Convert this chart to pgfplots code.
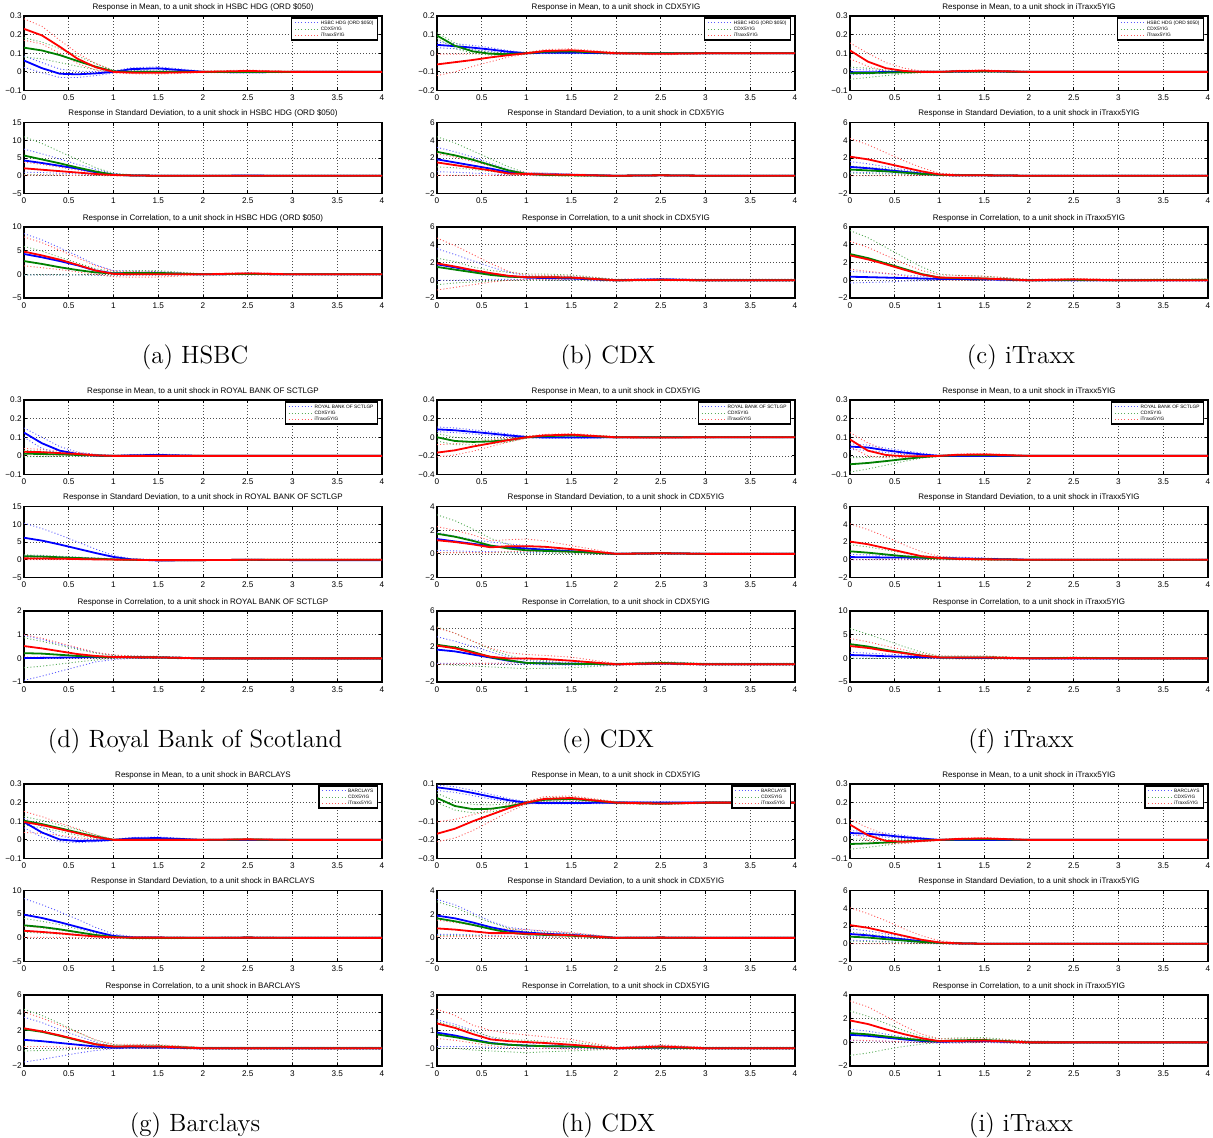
\documentclass[border=0pt]{standalone}
\usepackage{fontspec}
\usepackage{pgfplots}
\usepackage{pgfplotstable}
\pgfplotsset{compat=1.18}
\newfontfamily\arial{Liberation Sans}
\definecolor{mgreen}{rgb}{0,0.5,0}

\pgfplotsset{
 bandB/.style={blue!65, line width=0.45pt, dash pattern=on 0.5pt off 1.1pt},
 bandG/.style={mgreen!65, line width=0.45pt, dash pattern=on 0.5pt off 1.1pt},
 bandR/.style={red!65, line width=0.45pt, dash pattern=on 0.5pt off 1.1pt},
 lineB/.style={blue, line width=0.9pt, line join=round},
 lineG/.style={mgreen, line width=0.9pt, line join=round},
 lineR/.style={red, line width=0.9pt, line join=round},
 irf/.style={
   scale only axis, width=179pt, anchor=north west,
   xmin=0, xmax=4,
   xtick={0,0.5,1,1.5,2,2.5,3,3.5,4},
   xticklabels={0,0.5,1,1.5,2,2.5,3,3.5,4},
   grid=major,
   major grid style={black!70, line width=0.35pt, dash pattern=on 0.4pt off 1.1pt},
   axis line style={line width=0.75pt},
   tick align=inside, major tick length=1.6pt,
   tick style={line width=0.4pt, black},
   tick label style={font=\arial\fontsize{4.1}{4.5}\selectfont, inner sep=0pt},
   xticklabel style={yshift=-2pt},
   yticklabel style={xshift=-1pt},
   every axis title/.style={at={(0.5,1)}, anchor=base, yshift=3.3pt, inner sep=0pt,
      font=\arial\fontsize{4}{4.5}\selectfont},
   legend cell align=left,
   legend image code/.code={\draw[##1] (0pt,0pt) -- (11.5pt,0pt);},
   legend style={at={(1,1)}, anchor=north east, xshift=-2pt, yshift=-0.6pt,
      draw=black, line width=0.75pt, fill=white,
      font=\arial\fontsize{2.4}{2.6}\selectfont,
      inner xsep=1.5pt, inner ysep=0.85pt, row sep=0pt,
      nodes={text height=1.8pt, text depth=0.5pt, inner sep=0.4pt},
      /tikz/every odd column/.append style={column sep=0.8pt}},
 },
 yM1/.style={ymin=-0.1,ymax=0.3,ytick={-0.1,0,0.1,0.2,0.3},yticklabels={−0.1,0,0.1,0.2,0.3}},
 yM2/.style={ymin=-0.2,ymax=0.2,ytick={-0.2,-0.1,0,0.1,0.2},yticklabels={−0.2,−0.1,0,0.1,0.2}},
 yM3/.style={ymin=-0.4,ymax=0.4,ytick={-0.4,-0.2,0,0.2,0.4},yticklabels={−0.4,−0.2,0,0.2,0.4}},
 yM4/.style={ymin=-0.3,ymax=0.1,ytick={-0.3,-0.2,-0.1,0,0.1},yticklabels={−0.3,−0.2,−0.1,0,0.1}},
 yA/.style={ymin=-5,ymax=15,ytick={-5,0,5,10,15},yticklabels={−5,0,5,10,15}},
 yB/.style={ymin=-5,ymax=10,ytick={-5,0,5,10},yticklabels={−5,0,5,10}},
 yC/.style={ymin=-2,ymax=6,ytick={-2,0,2,4,6},yticklabels={−2,0,2,4,6}},
 yD/.style={ymin=-2,ymax=4,ytick={-2,0,2,4},yticklabels={−2,0,2,4}},
 yE/.style={ymin=-1,ymax=2,ytick={-1,0,1,2},yticklabels={−1,0,1,2}},
 yF/.style={ymin=-1,ymax=3,ytick={-1,0,1,2,3},yticklabels={−1,0,1,2,3}},
}

\newcommand\irfplots[1]{%
\addplot[bandB] table[x=x,y=bu]{#1};
\addplot[bandG] table[x=x,y=gu]{#1};
\addplot[bandR] table[x=x,y=ru]{#1};
\addplot[bandB,forget plot] table[x=x,y=bl]{#1};
\addplot[bandG,forget plot] table[x=x,y=gl]{#1};
\addplot[bandR,forget plot] table[x=x,y=rl]{#1};
\addplot[lineB,forget plot] table[x=x,y=b]{#1};
\addplot[lineG,forget plot] table[x=x,y=g]{#1};
\addplot[lineR,forget plot] table[x=x,y=r]{#1};
}
\newcommand\irf[7]{%
\begin{axis}[irf,at={(#1pt,-#2pt)},height=#3pt,#4,title={#5},#7]
\irfplots{#6}
\end{axis}}

% ---------------- data: x b bl bu g gl gu r rl ru ----------------
\pgfplotstableread{
x b bl bu g gl gu r rl ru
0 .061 .025 .085 .13 .08 .183 .231 .17 .285
.2 .02 -.005 .05 .115 .07 .16 .196 .15 .245
.4 -.01 -.03 .015 .09 .05 .125 .135 .10 .17
.6 -.013 -.03 .003 .058 .03 .085 .07 .045 .10
.8 -.008 -.02 .002 .028 .012 .045 .025 .01 .045
1 0 -.006 .006 .003 -.002 .008 0 -.006 .006
1.2 .015 .007 .022 0 -.004 .004 -.004 -.01 .002
1.5 .019 .01 .027 0 -.004 .004 -.005 -.012 .002
2 0 -.004 .004 0 -.002 .002 0 -.004 .004
2.5 -.002 -.006 .002 0 -.002 .002 .005 0 .01
3 0 -.003 .003 0 -.002 .002 0 -.003 .003
4 0 -.002 .002 0 -.001 .001 0 -.002 .002
}\TAm
\pgfplotstableread{
x b bl bu g gl gu r rl ru
0 4.3 1.0 7.5 5.7 0.3 11 2.1 0.2 3.8
.2 3.6 0.9 6.2 4.6 0.3 9.1 1.7 0.2 3.2
.4 2.8 0.7 4.7 3.5 0.2 6.8 1.3 0.2 2.4
.6 2.0 0.5 3.2 2.3 0.1 4.5 0.9 0.1 1.6
.8 1.0 0.3 1.8 1.2 0.1 2.3 0.5 0.1 0.9
1 0.3 0.1 0.6 0.3 0 0.7 0.2 0 0.4
1.2 0.1 0 0.3 0.1 0 0.3 0.1 0 0.2
1.5 0 -0.1 0.15 0 -0.1 0.1 0 -0.1 0.1
2 0 -0.1 0.1 0 -0.1 0.1 0 -0.1 0.1
2.5 0.05 -0.1 0.15 0 -0.1 0.1 0 -0.1 0.1
3 0 -0.1 0.1 0 -0.1 0.1 0 -0.1 0.1
4 0 -0.1 0.1 0 -0.1 0.1 0 -0.1 0.1
}\TAs
\pgfplotstableread{
x b bl bu g gl gu r rl ru
0 4.3 -0.1 8.6 2.8 -0.1 5.9 4.8 1.8 7.9
.2 3.6 -0.1 7.3 2.2 -0.1 4.9 4.0 1.4 6.7
.4 2.8 -0.1 5.6 1.5 -0.1 3.6 3.1 1.0 5.1
.6 1.9 -0.1 3.9 0.9 -0.1 2.4 2.0 0.5 3.5
.8 0.8 -0.2 2.0 0.4 -0.1 1.2 0.8 0.0 1.8
1 0.2 -0.3 0.8 0.2 -0.2 0.6 0.1 -0.5 0.7
1.2 0.2 -0.2 0.7 0.3 -0.1 0.8 0.0 -0.6 0.6
1.5 0.2 -0.2 0.6 0.3 -0.1 0.8 0.0 -0.6 0.5
2 0 -0.1 0.1 0 -0.1 0.1 0 -0.1 0.1
2.5 0.1 -0.1 0.3 0.1 -0.1 0.2 0.2 0 0.4
3 0 -0.1 0.1 0 -0.1 0.1 0 -0.1 0.1
4 0 -0.1 0.1 0 -0.1 0.1 0 -0.1 0.1
}\TAc
\pgfplotstableread{
x b bl bu g gl gu r rl ru
0 .045 .03 .06 .095 .08 .11 -.06 -.12 -.005
.2 .038 .024 .052 .04 .025 .055 -.048 -.10 -.005
.4 .03 .018 .042 .01 .0 .02 -.036 -.07 -.004
.6 .02 .01 .03 -.003 -.01 .005 -.022 -.045 -.002
.8 .008 .002 .014 -.004 -.01 .002 -.01 -.02 0
1 0 -.004 .004 0 -.004 .004 0 -.004 .004
1.2 .003 -.002 .008 .008 .002 .014 .012 .004 .02
1.5 .003 -.002 .008 .01 .004 .016 .016 .008 .024
2 0 -.004 .004 0 -.004 .004 0 -.006 .006
2.5 0 -.004 .004 0 -.004 .004 -.003 -.008 .002
3 0 -.003 .003 0 -.003 .003 0 -.004 .004
4 0 -.002 .002 0 -.002 .002 0 -.002 .002
}\TBm
\pgfplotstableread{
x b bl bu g gl gu r rl ru
0 1.85 0.45 3.2 2.7 1.0 4.4 1.5 0.05 2.5
.2 1.5 0.4 2.7 2.3 0.9 3.7 1.2 0.05 2.1
.4 1.15 0.3 2.1 1.8 0.7 2.8 0.9 0.05 1.6
.6 0.8 0.2 1.4 1.2 0.5 1.9 0.6 0.05 1.1
.8 0.4 0.1 0.7 0.6 0.2 1.0 0.25 0.05 0.6
1 0.2 0.05 0.35 0.2 0.1 0.3 0.2 0.05 0.35
1.2 0.15 0 0.3 0.1 0 0.2 0.15 0 0.3
1.5 0.1 0 0.2 0.05 -0.05 0.15 0.1 0 0.2
2 0 -0.05 0.05 0 -0.05 0.05 0 -0.05 0.05
2.5 0.05 0 0.1 0.05 0 0.1 0.05 0 0.1
3 0 -0.05 0.05 0 -0.05 0.05 0 -0.05 0.05
4 0 -0.05 0.05 0 -0.05 0.05 0 -0.05 0.05
}\TBs
\pgfplotstableread{
x b bl bu g gl gu r rl ru
0 1.8 0.0 3.55 1.5 -0.5 2.5 1.9 -1.1 4.75
.2 1.45 0.0 2.9 1.2 -0.3 2.1 1.55 -0.8 3.9
.4 1.1 0.05 2.2 0.9 -0.2 1.5 1.15 -0.5 2.9
.6 0.75 0.1 1.5 0.6 -0.1 1.1 0.8 -0.2 1.9
.8 0.45 0.1 0.9 0.4 0.0 0.9 0.5 0.0 1.0
1 0.3 0.1 0.5 0.35 0.0 0.7 0.35 0.1 0.6
1.2 0.25 0.05 0.45 0.35 0.0 0.7 0.35 0.1 0.55
1.5 0.2 0.0 0.4 0.3 0.0 0.6 0.3 0.1 0.5
2 0 -0.1 0.1 0 -0.1 0.1 0 -0.1 0.1
2.5 0.1 0 0.2 0.05 -0.05 0.15 0.05 0 0.1
3 0 -0.1 0.1 0 -0.1 0.1 0 -0.1 0.1
4 0 -0.1 0.1 0 -0.1 0.1 0 -0.1 0.1
}\TBc
\pgfplotstableread{
x b bl bu g gl gu r rl ru
0 -.002 -.015 .015 -.007 -.04 .025 .115 .07 .155
.2 -.002 -.012 .01 -.006 -.03 .02 .055 .03 .10
.4 -.001 -.008 .006 -.004 -.02 .01 .02 .005 .05
.6 0 -.005 .004 -.002 -.01 .005 .005 -.005 .02
.8 0 -.003 .003 0 -.005 .004 0 -.003 .005
1 0 -.002 .002 0 -.003 .003 0 -.002 .002
1.2 .002 -.002 .006 .002 -.002 .006 .004 0 .008
1.5 .004 0 .008 .003 -.001 .007 .006 .001 .011
2 0 -.002 .002 0 -.002 .002 0 -.002 .002
2.5 0 -.002 .002 0 -.002 .002 0 -.002 .002
3 0 -.002 .002 0 -.002 .002 0 -.002 .002
4 0 -.002 .002 0 -.002 .002 0 -.002 .002
}\TCm
\pgfplotstableread{
x b bl bu g gl gu r rl ru
0 1.0 0.4 1.6 0.7 0.3 1.1 2.15 0.0 4.2
.2 0.85 0.35 1.35 0.6 0.25 0.95 1.85 0.0 3.5
.4 0.65 0.3 1.0 0.5 0.2 0.8 1.4 0.0 2.6
.6 0.45 0.2 0.7 0.35 0.15 0.55 0.95 0.0 1.7
.8 0.25 0.1 0.4 0.2 0.1 0.35 0.5 0.05 0.9
1 0.1 0.0 0.2 0.1 0.0 0.2 0.15 0.0 0.3
1.2 0.05 -0.05 0.15 0.05 -0.05 0.15 0.05 -0.05 0.15
1.5 0.05 -0.05 0.1 0.05 -0.05 0.1 0.05 -0.05 0.1
2 0 -0.05 0.05 0 -0.05 0.05 0 -0.05 0.05
2.5 0 -0.05 0.05 0 -0.05 0.05 0 -0.05 0.05
3 0 -0.05 0.05 0 -0.05 0.05 0 -0.05 0.05
4 0 -0.05 0.05 0 -0.05 0.05 0 -0.05 0.05
}\TCs
\pgfplotstableread{
x b bl bu g gl gu r rl ru
0 0.4 -0.3 1.0 2.95 0.4 5.6 2.8 1.25 4.4
.2 0.35 -0.25 0.9 2.5 0.35 4.8 2.35 1.0 3.7
.4 0.3 -0.2 0.75 1.9 0.3 3.7 1.8 0.8 2.8
.6 0.25 -0.1 0.6 1.3 0.2 2.6 1.2 0.5 1.9
.8 0.2 -0.05 0.45 0.7 0.1 1.5 0.65 0.2 1.1
1 0.15 0.0 0.3 0.3 0.0 0.7 0.3 0.0 0.6
1.2 0.15 0.0 0.3 0.25 0.0 0.55 0.28 0.0 0.55
1.5 0.1 0.0 0.2 0.2 0.0 0.45 0.2 0.0 0.45
2 0 -0.1 0.1 0 -0.1 0.1 0 -0.1 0.1
2.5 0 -0.1 0.1 0.05 -0.05 0.15 0.1 0 0.2
3 0 -0.1 0.1 0 -0.1 0.1 0 -0.1 0.1
4 0 -0.1 0.1 0.05 -0.05 0.15 0 -0.1 0.1
}\TCc
\pgfplotstableread{
x b bl bu g gl gu r rl ru
0 .125 .10 .15 .012 -.005 .03 .022 .005 .04
.2 .068 .04 .10 .01 -.004 .025 .02 .005 .035
.4 .028 .01 .05 .008 -.003 .02 .015 .004 .028
.6 .01 .0 .02 .005 -.002 .012 .01 .002 .018
.8 .002 -.003 .008 .002 -.002 .006 .003 -.001 .008
1 0 -.003 .003 0 -.002 .002 0 -.002 .002
1.2 .003 -.001 .007 0 -.002 .002 0 -.002 .002
1.5 .005 0 .01 0 -.002 .002 0 -.002 .002
2 0 -.002 .002 0 -.002 .002 0 -.002 .002
2.5 0 -.002 .002 0 -.002 .002 0 -.002 .002
3 0 -.002 .002 0 -.002 .002 0 -.002 .002
4 0 -.002 .002 0 -.002 .002 0 -.002 .002
}\TDm
\pgfplotstableread{
x b bl bu g gl gu r rl ru
0 6.2 1.2 10.3 1.0 0.5 1.4 0.4 0.0 0.8
.2 5.4 1.1 8.8 0.9 0.45 1.25 0.35 0.0 0.7
.4 4.3 0.9 7.0 0.7 0.35 1.0 0.3 0.0 0.6
.6 3.1 0.7 5.0 0.5 0.25 0.75 0.2 0.0 0.4
.8 1.9 0.5 3.0 0.3 0.1 0.5 0.1 0.0 0.25
1 0.8 0.3 1.2 0.1 0.0 0.25 0.05 0.0 0.1
1.2 0.1 -0.1 0.3 0.0 -0.1 0.1 0.0 -0.1 0.1
1.5 -0.2 -0.3 0.0 -0.1 -0.2 0.0 -0.1 -0.2 0.0
2 -0.1 -0.2 0.0 -0.1 -0.2 0.0 -0.1 -0.2 0.0
2.5 0 -0.1 0.1 0 -0.1 0.1 0 -0.1 0.1
3 -0.1 -0.2 0.0 0 -0.1 0.1 0 -0.1 0.1
4 -0.1 -0.2 0.0 0 -0.1 0.1 0 -0.1 0.1
}\TDs
\pgfplotstableread{
x b bl bu g gl gu r rl ru
0 0.01 -0.93 0.97 0.22 -0.4 0.87 0.52 0.05 1.0
.2 0.02 -0.75 0.8 0.2 -0.33 0.72 0.42 0.05 0.85
.4 0.03 -0.55 0.6 0.15 -0.24 0.55 0.3 0.04 0.65
.6 0.04 -0.35 0.42 0.1 -0.15 0.38 0.18 0.03 0.45
.8 0.05 -0.15 0.25 0.07 -0.07 0.22 0.1 0.02 0.25
1 0.05 -0.05 0.12 0.05 0.0 0.12 0.06 0.0 0.15
1.2 0.05 0.0 0.1 0.05 0.0 0.1 0.05 0.0 0.1
1.5 0.04 0.0 0.08 0.04 0.0 0.08 0.04 0.0 0.08
2 0 -0.02 0.02 0 -0.02 0.02 0 -0.02 0.02
2.5 0 -0.02 0.02 0 -0.02 0.02 0 -0.02 0.02
3 0 -0.02 0.02 0 -0.02 0.02 0 -0.02 0.02
4 0 -0.02 0.02 0 -0.02 0.02 0 -0.02 0.02
}\TDc
\pgfplotstableread{
x b bl bu g gl gu r rl ru
0 .085 .06 .11 0 -.04 .04 -.165 -.21 -.08
.2 .075 .05 .1 -.04 -.08 0 -.14 -.19 -.07
.4 .058 .035 .08 -.05 -.08 -.02 -.1 -.15 -.05
.6 .04 .02 .06 -.045 -.07 -.02 -.065 -.1 -.03
.8 .02 .005 .035 -.03 -.05 -.01 -.03 -.05 -.01
1 .003 -.005 .01 0 -.01 .01 0 -.01 .01
1.2 -.002 -.01 .006 .012 .002 .022 .02 .008 .032
1.5 -.003 -.01 .004 .02 .008 .032 .028 .015 .04
2 0 -.006 .006 0 -.006 .006 0 -.008 .008
2.5 0 -.005 .005 0 -.005 .005 -.003 -.01 .004
3 0 -.004 .004 0 -.004 .004 0 -.006 .006
4 0 -.003 .003 0 -.003 .003 0 -.004 .004
}\TEm
\pgfplotstableread{
x b bl bu g gl gu r rl ru
0 1.25 0.3 1.8 1.7 0.1 3.3 1.15 0.1 2.3
.2 1.05 0.25 1.5 1.45 0.1 2.8 1.0 0.1 2.0
.4 0.85 0.2 1.2 1.1 0.1 2.1 0.8 0.1 1.6
.6 0.65 0.2 1.0 0.7 0.1 1.3 0.55 0.1 1.1
.8 0.55 0.15 0.85 0.45 0.1 0.8 0.65 0.2 1.2
1 0.45 0.1 0.7 0.3 0.05 0.5 0.65 0.2 1.25
1.2 0.35 0.1 0.55 0.25 0.05 0.4 0.6 0.2 1.1
1.5 0.22 0.05 0.4 0.18 0.02 0.3 0.4 0.1 0.7
2 0 -0.05 0.05 0 -0.05 0.05 0 -0.05 0.05
2.5 0.05 0 0.1 0.05 0 0.1 0.05 0 0.1
3 0 -0.05 0.05 0 -0.05 0.05 0 -0.05 0.05
4 0 -0.05 0.05 0 -0.05 0.05 0 -0.05 0.05
}\TEs
\pgfplotstableread{
x b bl bu g gl gu r rl ru
0 1.65 0.1 3.1 2.2 0.0 4.2 2.1 0.0 4.1
.2 1.45 0.1 2.6 1.9 -0.1 3.5 1.8 0.05 3.5
.4 1.1 0.1 2.0 1.4 -0.2 2.6 1.3 0.1 2.6
.6 0.75 0.1 1.4 0.8 -0.3 1.7 0.85 0.1 1.8
.8 0.4 0.05 0.8 0.45 -0.4 1.0 0.65 0.15 1.3
1 0.15 0.0 0.4 0.15 -0.5 0.5 0.65 0.2 1.1
1.2 0.1 -0.05 0.3 0.1 -0.45 0.45 0.6 0.2 1.0
1.5 0.05 -0.1 0.2 0.05 -0.4 0.4 0.4 0.1 0.8
2 0 -0.1 0.1 0 -0.1 0.1 0 -0.1 0.1
2.5 0.1 0.0 0.2 0.15 0.0 0.3 0.1 0.0 0.2
3 0 -0.1 0.1 0 -0.1 0.1 0 -0.1 0.1
4 0 -0.1 0.1 0 -0.1 0.1 0 -0.1 0.1
}\TEc
\pgfplotstableread{
x b bl bu g gl gu r rl ru
0 .05 .035 .065 -.045 -.087 -.01 .088 .05 .125
.2 .045 .03 .058 -.038 -.07 -.008 .028 .0 .07
.4 .03 .018 .042 -.028 -.05 -.006 .005 -.01 .03
.6 .018 .008 .028 -.017 -.03 -.004 -.002 -.01 .01
.8 .008 .0 .015 -.007 -.012 -.002 -.002 -.006 .003
1 0 -.003 .003 0 -.003 .003 0 -.003 .003
1.2 0 -.003 .003 .003 -.001 .007 .006 .002 .01
1.5 0 -.003 .003 .004 0 .008 .008 .003 .013
2 0 -.002 .002 0 -.002 .002 0 -.002 .002
2.5 0 -.002 .002 0 -.002 .002 0 -.002 .002
3 0 -.002 .002 0 -.002 .002 0 -.002 .002
4 0 -.002 .002 0 -.002 .002 0 -.002 .002
}\TFm
\pgfplotstableread{
x b bl bu g gl gu r rl ru
0 0.3 0.0 0.6 0.95 0.3 1.7 2.05 0.0 4.05
.2 0.28 0.0 0.55 0.8 0.25 1.45 1.75 0.0 3.4
.4 0.26 0.0 0.5 0.6 0.2 1.1 1.3 0.0 2.6
.6 0.25 0.0 0.45 0.4 0.15 0.75 0.85 0.0 1.7
.8 0.22 0.0 0.4 0.25 0.05 0.45 0.4 0.0 0.9
1 0.2 0.0 0.35 0.15 0.0 0.3 0.2 0.0 0.4
1.2 0.15 0.0 0.3 0.1 0.0 0.2 0.1 0.0 0.2
1.5 0.1 0.0 0.2 0.05 -0.05 0.1 0.05 -0.05 0.1
2 0 -0.05 0.05 0 -0.05 0.05 0 -0.05 0.05
2.5 0 -0.05 0.05 0 -0.05 0.05 0 -0.05 0.05
3 0 -0.05 0.05 0 -0.05 0.05 0 -0.05 0.05
4 0 -0.05 0.05 0 -0.05 0.05 0 -0.05 0.05
}\TFs
\pgfplotstableread{
x b bl bu g gl gu r rl ru
0 0.7 0.0 1.3 3.0 0.0 6.3 2.6 0.7 4.2
.2 0.6 0.0 1.1 2.5 0.0 5.1 2.2 0.6 3.5
.4 0.45 0.0 0.9 1.8 0.0 3.8 1.6 0.4 2.6
.6 0.35 0.0 0.7 1.2 0.0 2.5 1.1 0.3 1.8
.8 0.25 0.0 0.45 0.6 0.0 1.3 0.55 0.1 1.0
1 0.15 0.0 0.3 0.2 -0.1 0.5 0.2 0.0 0.5
1.2 0.1 0.0 0.25 0.2 -0.1 0.5 0.2 -0.1 0.5
1.5 0.1 0.0 0.2 0.2 -0.1 0.5 0.2 -0.1 0.5
2 0 -0.1 0.1 0 -0.1 0.1 0 -0.1 0.1
2.5 0 -0.1 0.1 0.1 -0.1 0.3 0.05 -0.1 0.2
3 0 -0.1 0.1 0 -0.1 0.1 0 -0.1 0.1
4 0 -0.1 0.1 0 -0.1 0.1 0 -0.1 0.1
}\TFc
\pgfplotstableread{
x b bl bu g gl gu r rl ru
0 .096 .065 .115 .103 .08 .125 .096 .04 .153
.2 .04 .015 .07 .085 .065 .105 .08 .035 .125
.4 .002 -.01 .02 .063 .045 .08 .058 .025 .09
.6 -.006 -.015 .004 .04 .025 .055 .036 .012 .06
.8 -.004 -.01 .002 .018 .008 .028 .015 .003 .025
1 0 -.003 .003 0 -.003 .003 0 -.003 .003
1.2 .008 .003 .013 0 -.002 .002 0 -.002 .002
1.5 .01 .004 .016 0 -.002 .002 0 -.002 .002
2 0 -.002 .002 0 -.002 .002 0 -.002 .002
2.5 0 -.002 .002 .002 -.001 .005 .003 0 .006
3 0 -.002 .002 0 -.002 .002 0 -.002 .002
4 0 -.002 .002 0 -.002 .002 0 -.002 .002
}\TGm
\pgfplotstableread{
x b bl bu g gl gu r rl ru
0 4.9 1.5 8.3 2.65 1.2 4.1 1.5 0.1 2.5
.2 4.2 1.3 7.0 2.3 1.0 3.5 1.25 0.1 2.1
.4 3.3 1.0 5.5 1.8 0.8 2.8 0.95 0.1 1.6
.6 2.3 0.7 3.9 1.2 0.5 1.9 0.6 0.05 1.1
.8 1.3 0.4 2.2 0.6 0.25 1.0 0.3 0.0 0.6
1 0.4 0.1 0.8 0.2 0.05 0.35 0.1 0.0 0.2
1.2 0.1 -0.1 0.3 0.0 -0.2 0.2 0.05 -0.1 0.2
1.5 0.05 -0.1 0.2 0.0 -0.2 0.2 0.05 -0.1 0.2
2 0 -0.1 0.1 0 -0.1 0.1 0 -0.1 0.1
2.5 0.05 -0.1 0.2 0.05 -0.1 0.2 0.05 -0.1 0.2
3 0 -0.1 0.1 0 -0.1 0.1 0 -0.1 0.1
4 0 -0.1 0.1 0 -0.1 0.1 0 -0.1 0.1
}\TGs
\pgfplotstableread{
x b bl bu g gl gu r rl ru
0 0.95 -1.55 3.5 2.15 -0.3 4.4 2.25 0.2 4.1
.2 0.8 -1.25 2.9 1.85 -0.25 3.7 1.9 0.2 3.4
.4 0.6 -0.9 2.1 1.4 -0.2 2.8 1.45 0.15 2.6
.6 0.4 -0.55 1.4 0.9 -0.1 1.8 0.95 0.1 1.8
.8 0.2 -0.25 0.7 0.45 0.0 0.9 0.45 0.05 0.95
1 0.05 -0.05 0.2 0.2 0.0 0.4 0.2 0.0 0.45
1.2 0.1 0.0 0.2 0.2 0.05 0.35 0.22 0.0 0.45
1.5 0.1 0.0 0.2 0.2 0.05 0.35 0.2 0.0 0.4
2 0 -0.1 0.1 0 -0.1 0.1 0 -0.1 0.1
2.5 0 -0.1 0.1 0 -0.1 0.1 0 -0.1 0.1
3 0 -0.1 0.1 0 -0.1 0.1 0 -0.1 0.1
4 0 -0.1 0.1 0 -0.1 0.1 0 -0.1 0.1
}\TGc
\pgfplotstableread{
x b bl bu g gl gu r rl ru
0 .082 .065 .095 .025 0 .05 -.167 -.21 -.103
.2 .07 .055 .085 -.018 -.04 .01 -.14 -.19 -.09
.4 .052 .038 .066 -.035 -.055 -.01 -.1 -.15 -.065
.6 .032 .02 .045 -.033 -.05 -.012 -.065 -.1 -.04
.8 .013 .005 .022 -.02 -.032 -.006 -.03 -.05 -.012
1 0 -.005 .005 0 -.008 .008 0 -.008 .008
1.2 -.002 -.007 .003 .015 .005 .025 .02 .008 .032
1.5 -.002 -.007 .003 .02 .008 .03 .025 .012 .036
2 0 -.004 .004 0 -.005 .005 0 -.006 .006
2.5 0 -.004 .004 -.005 -.01 0 -.005 -.01 0
3 0 -.003 .003 0 -.004 .004 0 -.004 .004
4 0 -.002 .002 0 -.003 .003 0 -.003 .003
}\THm
\pgfplotstableread{
x b bl bu g gl gu r rl ru
0 1.88 0.3 3.25 1.65 0.2 3.05 0.8 0.1 1.5
.2 1.65 0.3 2.8 1.4 0.2 2.6 0.7 0.1 1.3
.4 1.3 0.25 2.1 1.1 0.2 1.9 0.55 0.1 1.05
.6 0.9 0.2 1.4 0.75 0.15 1.3 0.4 0.1 0.8
.8 0.6 0.15 0.9 0.45 0.1 0.8 0.4 0.1 0.75
1 0.45 0.1 0.7 0.3 0.05 0.55 0.35 0.05 0.7
1.2 0.35 0.1 0.55 0.25 0.05 0.45 0.3 0.05 0.6
1.5 0.25 0.05 0.4 0.18 0.02 0.35 0.22 0.02 0.45
2 0 -0.05 0.05 0 -0.05 0.05 0 -0.05 0.05
2.5 0.02 -0.05 0.08 0.02 -0.05 0.08 0.02 -0.05 0.08
3 0 -0.05 0.05 0 -0.05 0.05 0 -0.05 0.05
4 0 -0.05 0.05 0 -0.05 0.05 0 -0.05 0.05
}\THs
\pgfplotstableread{
x b bl bu g gl gu r rl ru
0 0.88 0.1 1.6 0.78 0.0 1.5 1.4 0.55 2.2
.2 0.72 0.1 1.35 0.63 0.0 1.25 1.15 0.45 1.85
.4 0.5 0.1 1.0 0.45 -0.1 0.95 0.8 0.3 1.3
.6 0.3 0.05 0.6 0.28 -0.15 0.65 0.5 0.15 1.0
.8 0.2 0.0 0.4 0.2 -0.2 0.5 0.4 0.05 0.85
1 0.15 0.0 0.3 0.15 -0.25 0.45 0.35 0.0 0.75
1.2 0.12 0.0 0.25 0.12 -0.2 0.4 0.3 0.0 0.65
1.5 0.1 0.0 0.2 0.1 -0.15 0.35 0.2 -0.05 0.5
2 0 -0.05 0.05 0 -0.05 0.05 0 -0.05 0.05
2.5 0.05 -0.05 0.15 0.05 -0.05 0.15 0.1 0.0 0.2
3 0 -0.05 0.05 0 -0.05 0.05 0 -0.05 0.05
4 0 -0.05 0.05 0 -0.05 0.05 0 -0.05 0.05
}\THc
\pgfplotstableread{
x b bl bu g gl gu r rl ru
0 .037 .025 .05 -.022 -.05 .005 .082 .05 .11
.2 .033 .02 .045 -.019 -.04 .004 .025 -.005 .065
.4 .025 .015 .036 -.014 -.028 .002 -.005 -.02 .03
.6 .015 .007 .024 -.008 -.017 .001 -.01 -.02 .005
.8 .007 .002 .012 -.003 -.008 .001 -.005 -.01 .0
1 0 -.002 .002 0 -.002 .002 0 -.003 .003
1.2 0 -.002 .002 .002 -.001 .005 .005 .001 .009
1.5 0 -.002 .002 .004 .0 .008 .008 .003 .013
2 0 -.002 .002 0 -.002 .002 0 -.002 .002
2.5 0 -.002 .002 0 -.002 .002 0 -.002 .002
3 0 -.002 .002 0 -.002 .002 0 -.002 .002
4 0 -.002 .002 0 -.002 .002 0 -.002 .002
}\TIm
\pgfplotstableread{
x b bl bu g gl gu r rl ru
0 1.1 0.4 1.7 0.8 0.3 1.3 2.1 0.0 4.05
.2 0.95 0.35 1.45 0.7 0.25 1.1 1.8 0.0 3.4
.4 0.72 0.25 1.1 0.52 0.2 0.85 1.35 0.0 2.6
.6 0.5 0.15 0.8 0.36 0.1 0.6 0.9 0.0 1.7
.8 0.28 0.1 0.45 0.2 0.05 0.35 0.45 0.0 0.9
1 0.1 0.0 0.2 0.1 0.0 0.2 0.15 0.0 0.35
1.2 0.05 -0.05 0.1 0.05 -0.05 0.1 0.05 -0.05 0.15
1.5 0.0 -0.05 0.05 0.0 -0.05 0.05 0.0 -0.05 0.05
2 0 -0.05 0.05 0 -0.05 0.05 0 -0.05 0.05
2.5 0 -0.05 0.05 0 -0.05 0.05 0 -0.05 0.05
3 0 -0.05 0.05 0 -0.05 0.05 0 -0.05 0.05
4 0 -0.05 0.05 0 -0.05 0.05 0 -0.05 0.05
}\TIs
\pgfplotstableread{
x b bl bu g gl gu r rl ru
0 0.64 0.15 1.1 0.78 -1.1 2.65 1.85 0.2 3.5
.2 0.55 0.12 0.95 0.68 -0.9 2.2 1.55 0.15 3.0
.4 0.4 0.1 0.7 0.5 -0.6 1.6 1.1 0.1 2.2
.6 0.25 0.05 0.45 0.33 -0.35 1.0 0.7 0.05 1.4
.8 0.12 0.0 0.25 0.18 -0.15 0.5 0.35 0.0 0.7
1 0.05 -0.05 0.15 0.1 0.0 0.3 0.1 -0.05 0.3
1.2 0.08 -0.05 0.2 0.18 0.0 0.38 0.12 -0.05 0.3
1.5 0.1 0.0 0.2 0.2 0.05 0.4 0.15 0.0 0.3
2 0 -0.1 0.1 0 -0.1 0.1 0 -0.1 0.1
2.5 0 -0.05 0.05 0 -0.05 0.05 0 -0.05 0.05
3 0 -0.05 0.05 0 -0.05 0.05 0 -0.05 0.05
4 0 -0.05 0.05 0 -0.05 0.05 0 -0.05 0.05
}\TIc

\begin{document}
\begin{tikzpicture}
\useasboundingbox (0,0) rectangle (606.5pt,-568.5pt);
% ---------- row 1 ----------
\irf{12}{8}{37.25}{yM1}{Response in Mean, to a unit shock in HSBC HDG (ORD \$050)}{\TAm}{legend entries={HSBC HDG (ORD \$050),CDX5YIG,iTraxx5YIG}}
\irf{12}{61.25}{35.5}{yA}{Response in Standard Deviation, to a unit shock in HSBC HDG (ORD \$050)}{\TAs}{}
\irf{12}{113.5}{35.5}{yB}{Response in Correlation, to a unit shock in HSBC HDG (ORD \$050)}{\TAc}{}
\irf{218.5}{8}{37.25}{yM2}{Response in Mean, to a unit shock in CDX5YIG}{\TBm}{legend entries={HSBC HDG (ORD \$050),CDX5YIG,iTraxx5YIG}}
\irf{218.5}{61.25}{35.5}{yC}{Response in Standard Deviation, to a unit shock in CDX5YIG}{\TBs}{}
\irf{218.5}{113.5}{35.5}{yC}{Response in Correlation, to a unit shock in CDX5YIG}{\TBc}{}
\irf{425}{8}{37.25}{yM1}{Response in Mean, to a unit shock in iTraxx5YIG}{\TCm}{legend entries={HSBC HDG (ORD \$050),CDX5YIG,iTraxx5YIG}}
\irf{425}{61.25}{35.5}{yC}{Response in Standard Deviation, to a unit shock in iTraxx5YIG}{\TCs}{}
\irf{425}{113.5}{35.5}{yC}{Response in Correlation, to a unit shock in iTraxx5YIG}{\TCc}{}
% ---------- row 2 ----------
\irf{12}{200}{37.25}{yM1}{Response in Mean, to a unit shock in ROYAL BANK OF SCTLGP}{\TDm}{legend entries={ROYAL BANK OF SCTLGP,CDX5YIG,iTraxx5YIG}}
\irf{12}{253.25}{35.5}{yA}{Response in Standard Deviation, to a unit shock in ROYAL BANK OF SCTLGP}{\TDs}{}
\irf{12}{305.5}{35.5}{yE}{Response in Correlation, to a unit shock in ROYAL BANK OF SCTLGP}{\TDc}{}
\irf{218.5}{200}{37.25}{yM3}{Response in Mean, to a unit shock in CDX5YIG}{\TEm}{legend entries={ROYAL BANK OF SCTLGP,CDX5YIG,iTraxx5YIG}}
\irf{218.5}{253.25}{35.5}{yD}{Response in Standard Deviation, to a unit shock in CDX5YIG}{\TEs}{}
\irf{218.5}{305.5}{35.5}{yC}{Response in Correlation, to a unit shock in CDX5YIG}{\TEc}{}
\irf{425}{200}{37.25}{yM1}{Response in Mean, to a unit shock in iTraxx5YIG}{\TFm}{legend entries={ROYAL BANK OF SCTLGP,CDX5YIG,iTraxx5YIG}}
\irf{425}{253.25}{35.5}{yC}{Response in Standard Deviation, to a unit shock in iTraxx5YIG}{\TFs}{}
\irf{425}{305.5}{35.5}{yB}{Response in Correlation, to a unit shock in iTraxx5YIG}{\TFc}{}
% ---------- row 3 ----------
\irf{12}{392}{37.25}{yM1}{Response in Mean, to a unit shock in BARCLAYS}{\TGm}{legend entries={BARCLAYS,CDX5YIG,iTraxx5YIG}}
\irf{12}{445.25}{35.5}{yB}{Response in Standard Deviation, to a unit shock in BARCLAYS}{\TGs}{}
\irf{12}{497.5}{35.5}{yC}{Response in Correlation, to a unit shock in BARCLAYS}{\TGc}{}
\irf{218.5}{392}{37.25}{yM4}{Response in Mean, to a unit shock in CDX5YIG}{\THm}{legend entries={BARCLAYS,CDX5YIG,iTraxx5YIG}}
\irf{218.5}{445.25}{35.5}{yD}{Response in Standard Deviation, to a unit shock in CDX5YIG}{\THs}{}
\irf{218.5}{497.5}{35.5}{yF}{Response in Correlation, to a unit shock in CDX5YIG}{\THc}{}
\irf{425}{392}{37.25}{yM1}{Response in Mean, to a unit shock in iTraxx5YIG}{\TIm}{legend entries={BARCLAYS,CDX5YIG,iTraxx5YIG}}
\irf{425}{445.25}{35.5}{yC}{Response in Standard Deviation, to a unit shock in iTraxx5YIG}{\TIs}{}
\irf{425}{497.5}{35.5}{yD}{Response in Correlation, to a unit shock in iTraxx5YIG}{\TIc}{}
% ---------- captions ----------
\begin{scope}[every node/.style={anchor=base, font=\fontsize{12.5}{14}\selectfont, inner sep=0pt}]
\node at (97.5pt,-181.5pt) {(a) HSBC};
\node at (304pt,-181.5pt) {(b) CDX};
\node at (510.5pt,-181.5pt) {(c) iTraxx};
\node at (97.5pt,-373.5pt) {(d) Royal Bank of Scotland};
\node at (304pt,-373.5pt) {(e) CDX};
\node at (510.5pt,-373.5pt) {(f) iTraxx};
\node at (97.5pt,-565.5pt) {(g) Barclays};
\node at (304pt,-565.5pt) {(h) CDX};
\node at (510.5pt,-565.5pt) {(i) iTraxx};
\end{scope}
\end{tikzpicture}
\end{document}
